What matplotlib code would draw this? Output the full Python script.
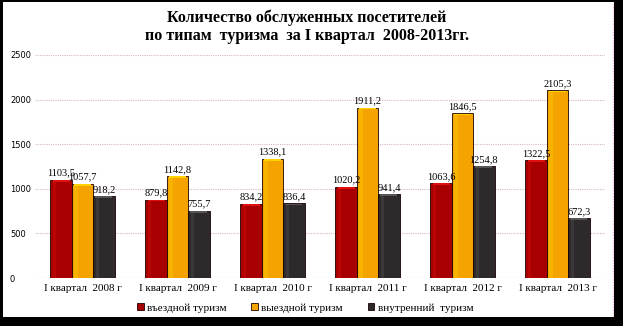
import matplotlib
matplotlib.use('Agg')
import matplotlib.pyplot as plt
from matplotlib.patches import Rectangle
import numpy as np

categories = ['I квартал  2008 г', 'I квартал  2009 г', 'I квартал  2010 г',
              'I квартал  2011 г', 'I квартал  2012 г', 'I квартал  2013 г']
series_names = ['въездной туризм', 'выездной туризм', 'внутренний  туризм']
inbound = [1103.5, 879.8, 834.2, 1020.2, 1063.6, 1322.5]
outbound = [1057.7, 1142.8, 1338.1, 1911.2, 1846.5, 2105.3]
domestic = [918.2, 755.7, 836.4, 941.4, 1254.8, 672.3]

colors = ['#a80000', '#f5a300', '#2e2a2c']
tops = ['#e01010', '#ffd200', '#555555']

W, H = 623, 326
fig = plt.figure(figsize=(W / 100, H / 100), dpi=100, facecolor='black')
# white card with a black drop-shadow frame
fig.patches.append(Rectangle((3 / W, 9 / H), 611 / W, 315 / H, transform=fig.transFigure,
                             facecolor='white', edgecolor='none', zorder=-10))
fig.lines.append(plt.Line2D([613 / W, 613 / W], [10 / H, 323 / H], transform=fig.transFigure,
                            color='#e8a8e0', lw=0.8, ls=(0, (1, 1.5)), zorder=-5))

ax = fig.add_axes([35 / W, 48 / H, 570 / W, 223 / H])
ax.set_facecolor('none')

x = np.arange(len(categories))
bw = 0.225
serif = 'Liberation Serif'
for i, (vals, c, tc) in enumerate(zip([inbound, outbound, domestic], colors, tops)):
    pos = x + (i - 1) * bw
    ax.bar(pos, vals, bw, color=c, edgecolor='#1a0000', linewidth=0.6,
           label=series_names[i], zorder=3)
    # lighter bevel along the top and left edge of each bar
    ax.bar(pos, [18] * len(vals), bw * 0.8, bottom=np.array(vals) - 22,
           color=tc, linewidth=0, zorder=4)
    ax.bar(pos - bw * 0.3, np.array(vals) - 22, bw * 0.15, color=tc, alpha=0.35,
           linewidth=0, zorder=4)
    for px, v in zip(pos, vals):
        ax.text(px, v + 25, f'{v:.1f}'.replace('.', ','), ha='center', va='bottom',
                fontsize=7.5, family=serif, zorder=5)

ax.set_ylim(0, 2500)
ax.set_xlim(-0.5, len(categories) - 0.5)
ax.set_yticks(range(0, 2501, 500))
ax.yaxis.grid(True, color='#d8b8c0', linestyle=(0, (1, 1)), linewidth=0.8, zorder=0)
ax.set_xticks(x)
ax.set_xticklabels(categories, family=serif, fontsize=8)
ax.tick_params(axis='y', labelsize=6, length=0, pad=18)
ax.tick_params(axis='x', length=0, pad=4)
for lbl in ax.get_yticklabels():
    lbl.set_horizontalalignment('left')
for s in ax.spines.values():
    s.set_visible(False)
ax.axhline(0, color='#d8b8c0', lw=0.8, ls=(0, (1, 1)), zorder=1)

fig.text(0.493, 1 - 27 / H, 'Количество обслуженных посетителей\nпо типам  туризма  за I квартал  2008-2013гг.',
         ha='center', va='center', family=serif, fontweight='bold', fontsize=11.5,
         linespacing=1.2)

leg = fig.legend(loc='center', bbox_to_anchor=(0.49, 1 - 308 / H), ncol=3, frameon=False,
                 prop={'family': serif, 'size': 8}, handlelength=0.6, handleheight=0.6,
                 handletextpad=0.3, columnspacing=2.2)

fig.savefig('out.png', dpi=100, facecolor=fig.get_facecolor())
